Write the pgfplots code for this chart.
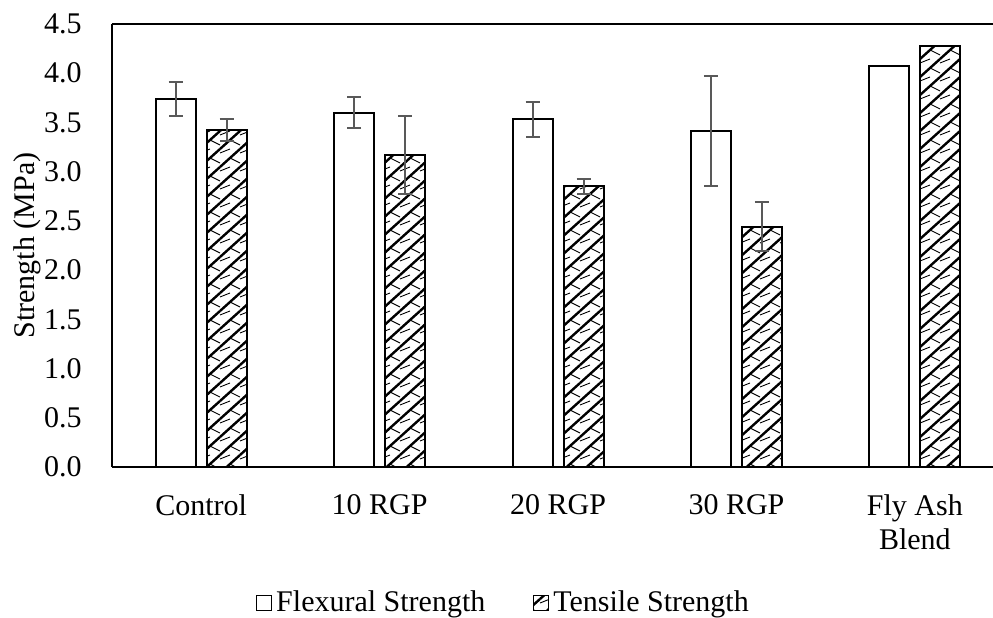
\documentclass[border=0pt]{standalone}
\usepackage{fontspec}
\setmainfont{Liberation Serif}
\usepackage{pgfplots}
\pgfplotsset{compat=1.18}
\usetikzlibrary{patterns}

\definecolor{errgray}{RGB}{89,89,89}

% shingle-like hatch used for the tensile bars
\pgfdeclarepatternformonly{shingle}{\pgfqpoint{-1pt}{-1pt}}{\pgfqpoint{11pt}{10pt}}{\pgfqpoint{10pt}{9pt}}{
  \pgfsetlinewidth{1.2pt}
  \pgfpathmoveto{\pgfqpoint{0pt}{0pt}}
  \pgfpathlineto{\pgfqpoint{10pt}{9pt}}
  \pgfusepath{stroke}
  \pgfsetlinewidth{0.45pt}
  \pgfpathmoveto{\pgfqpoint{5pt}{4.5pt}}
  \pgfpathlineto{\pgfqpoint{10pt}{2pt}}
  \pgfpathmoveto{\pgfqpoint{0pt}{7pt}}
  \pgfpathlineto{\pgfqpoint{5pt}{9pt}}
  \pgfusepath{stroke}
}

\pgfplotsset{
  errbars/.style={draw=none, mark=none, forget plot,
    error bars/y dir=both, error bars/y explicit,
    error bars/error bar style={draw=errgray, line width=1pt},
    error bars/error mark options={rotate=90, mark size=3.5pt, line width=1pt, draw=errgray}},
}

\begin{document}
\fontsize{15}{17}\selectfont
\begin{tikzpicture}
\begin{axis}[
    scale only axis,
    width=440.5pt, height=221.5pt,
    xmin=-0.5, xmax=4.438,
    ymin=0, ymax=4.5,
    axis x line*=box, axis y line*=left,
    axis line style={-, line width=0.8pt},
    major tick length=0pt,
    xtick={0,1,2,3,4},
    xticklabels={Control, 10 RGP, 20 RGP, 30 RGP, {Fly Ash\\Blend}},
    xticklabel style={align=center, anchor=north, yshift=-8.5pt},
    ytick={0,0.5,...,4.5},
    yticklabel style={anchor=east, xshift=-10pt,
        /pgf/number format/.cd, fixed, fixed zerofill, precision=1, assume math mode=true},
    ylabel={Strength (MPa)},
    every axis y label/.style={at={(axis description cs:-0.0965,0.5)}, rotate=90, anchor=center},
    legend image code/.code={\draw[#1, line width=0.5pt] (0pt,-3.75pt) rectangle (7.5pt,3.75pt);},
    legend style={draw=none, legend columns=-1, at={(0.4455,0)}, anchor=center, yshift=-68pt,
        /tikz/every even column/.append style={column sep=22pt}},
]
\addplot[ybar, bar width=20pt, bar shift=-12.75pt, fill=white, draw=black, line width=1pt]
    coordinates {(0,3.74) (1,3.60) (2,3.53) (3,3.41) (4,4.07)};
\addlegendentry{Flexural Strength}
\addplot[ybar, bar width=20pt, bar shift=12.75pt, fill=white, draw=black, line width=1pt,
    postaction={pattern=shingle}]
    coordinates {(0,3.42) (1,3.17) (2,2.85) (3,2.44) (4,4.28)};
\addlegendentry{Tensile Strength}
% error bars (none for the fly ash blend)
\addplot[xshift=-12.75pt, errbars]
    coordinates {(0,3.74) +- (0,0.17) (1,3.60) +- (0,0.16) (2,3.53) +- (0,0.18) (3,3.41) +- (0,0.56)};
\addplot[xshift=12.75pt, errbars]
    coordinates {(0,3.42) +- (0,0.11) (1,3.17) +- (0,0.40) (2,2.85) +- (0,0.08) (3,2.44) +- (0,0.25)};
\end{axis}
\pgfresetboundingbox
\path[use as bounding box] ([xshift=-56pt,yshift=-75pt]current axis.south west)
    rectangle ([yshift=12pt]current axis.north east);
\end{tikzpicture}
\end{document}
